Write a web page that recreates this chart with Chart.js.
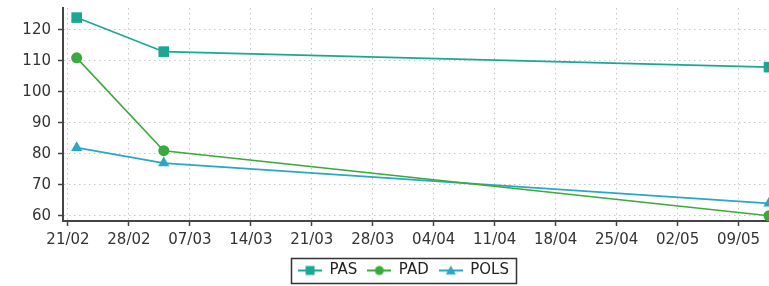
<!DOCTYPE html>
<html><head><meta charset="utf-8">
<script src="https://cdn.jsdelivr.net/npm/chart.js@4"></script>
<style>html,body{margin:0;padding:0;background:#fff}#wrap{width:769px;height:286px;position:relative}</style>
</head><body><div id="wrap"><canvas id="c" width="769" height="286"></canvas></div>
<script>
// ---- data ----
const dates = ['2021-02-22T00:00', '2021-03-04T00:00', '2021-05-12T12:00'];
const seriesNames = ['PAS', 'PAD', 'POLS'];
const pas = [124, 113, 108];
const pad = [111, 81, 60];
const pols = [82, 77, 64];
const xTickLabels = ['21/02','28/02','07/03','14/03','21/03','28/03','04/04','11/04','18/04','25/04','02/05','09/05'];
const yTicks = [60, 70, 80, 90, 100, 110, 120];

// ---- helpers ----
const BASE = Date.UTC(2021, 1, 21);
const DAY = 86400000;
const toDay = s => (Date.parse(s + 'Z') - BASE) / DAY;
const xs = dates.map(toDay);
const xTickVals = xTickLabels.map((_, i) => i * 7);

const colors = ['#1aa895', '#3aaa3a', '#28a8c4'];
const styles = ['rect', 'circle', 'triangle'];
const radii = [7.5, 5.5, 6.5];
const values = [pas, pad, pols];

// let the markers overflow the plot area instead of shrinking it
const LineCtl = Chart.registry.getController('line');
LineCtl.prototype.getMaxOverflow = function () { return 0; };

function legendIcon(color, style) {
  const c = document.createElement('canvas');
  c.width = 24; c.height = 14;
  const g = c.getContext('2d');
  g.strokeStyle = color; g.fillStyle = color; g.lineWidth = 2;
  g.beginPath(); g.moveTo(0, 7); g.lineTo(24, 7); g.stroke();
  g.beginPath();
  if (style === 'rect') g.rect(7.5, 2.5, 9, 9);
  else if (style === 'circle') g.arc(12, 7, 4.5, 0, Math.PI * 2);
  else { g.moveTo(12, 2); g.lineTo(17, 11); g.lineTo(7, 11); g.closePath(); }
  g.fill();
  return c;
}

const datasets = seriesNames.map((name, i) => ({
  label: name,
  data: xs.map((x, j) => ({ x: x, y: values[i][j] })),
  borderColor: colors[i],
  backgroundColor: colors[i],
  pointBackgroundColor: colors[i],
  pointBorderColor: colors[i],
  pointStyle: styles[i],
  pointRadius: radii[i],
  pointBorderWidth: 0,
  borderWidth: 1.6,
  tension: 0,
  clip: false
}));

const legendShift = {
  id: 'legendShift',
  afterLayout(chart) {
    const lg = chart.legend;
    if (!lg) return;
    lg.left += 19; lg.right += 19;
    lg.top += 2; lg.bottom += 2;
  }
};

const legendBorder = {
  id: 'legendBorder',
  afterDraw(chart) {
    const lg = chart.legend;
    if (!lg || !lg.legendHitBoxes || !lg.legendHitBoxes.length) return;
    const hb = lg.legendHitBoxes;
    const l = Math.min(...hb.map(b => b.left)) - 7;
    const r = Math.max(...hb.map(b => b.left + b.width)) + 7;
    const t = Math.min(...hb.map(b => b.top)) - 5;
    const b = Math.max(...hb.map(b => b.top + b.height)) + 5;
    const ctx = chart.ctx;
    ctx.save();
    ctx.strokeStyle = '#333';
    ctx.lineWidth = 1.5;
    ctx.strokeRect(Math.round(l) + 0.5, Math.round(t) + 0.5, Math.round(r - l), Math.round(b - t));
    ctx.restore();
  }
};

new Chart(document.getElementById('c'), {
  type: 'line',
  data: { datasets },
  plugins: [legendShift, legendBorder],
  options: {
    responsive: false,
    animation: false,
    devicePixelRatio: 1,
    layout: { padding: { top: 8, right: 0, left: 0, bottom: 0 } },
    font: { family: 'DejaVu Sans' },
    plugins: {
      tooltip: { enabled: false },
      legend: {
        position: 'bottom',
        labels: {
          font: { family: 'DejaVu Sans', size: 15 },
          color: '#222',
          usePointStyle: true,
          pointStyleWidth: 24,
          boxHeight: 14,
          padding: 10,
          generateLabels: (chart) => chart.data.datasets.map((ds, i) => ({
            text: ds.label,
            pointStyle: legendIcon(colors[i], styles[i]),
            fillStyle: colors[i],
            strokeStyle: colors[i],
            lineWidth: 0,
            hidden: false,
            datasetIndex: i,
            fontColor: '#222'
          }))
        }
      }
    },
    scales: {
      x: {
        type: 'linear',
        min: -0.57,
        max: xs[xs.length - 1],
        afterBuildTicks: s => { s.ticks = xTickVals.map(v => ({ value: v })); },
        afterFit: s => { s.height = 30; s.paddingLeft = 0; s.paddingRight = 0; },
        ticks: {
          autoSkip: false,
          maxRotation: 0,
          padding: 5,
          color: '#333',
          font: { family: 'DejaVu Sans', size: 15 },
          callback: (v) => { const i = xTickVals.indexOf(v); return i >= 0 ? xTickLabels[i] : ''; }
        },
        grid: { color: '#c8c8c8', lineWidth: 1, tickLength: 5, tickColor: '#444', tickWidth: 1.5, tickBorderDash: [] },
        border: { color: '#444', width: 2, dash: [1.5, 3.5] }
      },
      y: {
        type: 'linear',
        min: 58.3,
        max: 127.1,
        afterBuildTicks: s => { s.ticks = yTicks.map(v => ({ value: v })); },
        afterFit: s => { s.width = 63; s.paddingTop = 0; s.paddingBottom = 0; },
        ticks: {
          padding: 7,
          color: '#333',
          font: { family: 'DejaVu Sans', size: 15 },
          callback: v => String(v)
        },
        grid: { color: '#c8c8c8', lineWidth: 1, tickLength: 5, tickColor: '#444', tickWidth: 1.5, tickBorderDash: [] },
        border: { color: '#444', width: 2, dash: [1.5, 3.5] }
      }
    }
  }
});
</script>
</body></html>
